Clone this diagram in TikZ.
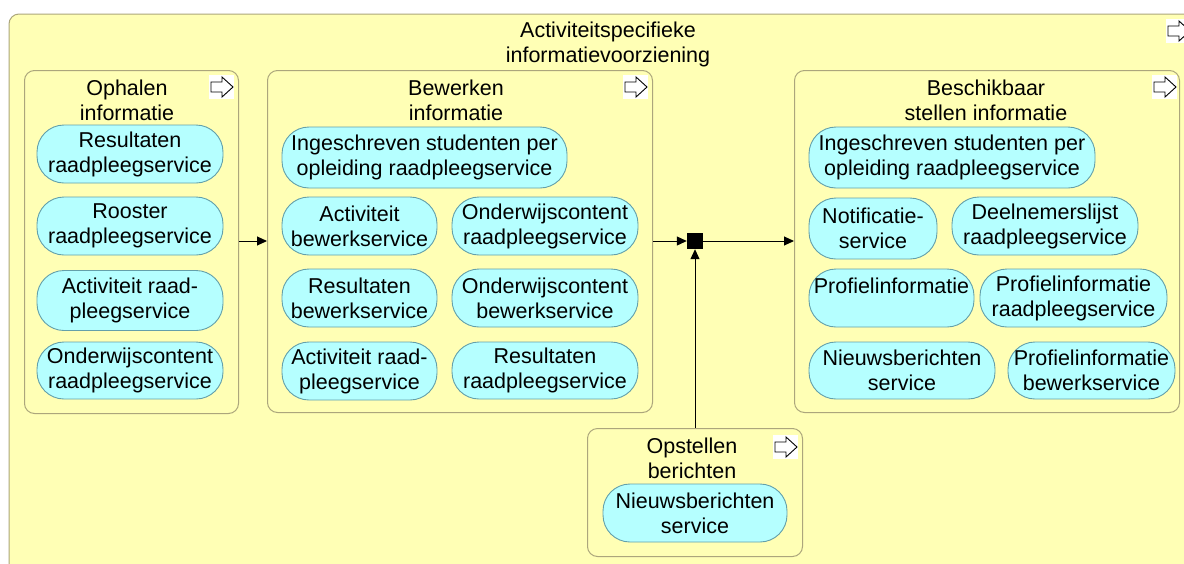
\documentclass[tikz,border=0pt]{standalone}
\usepackage{fontspec}
\setmainfont{Liberation Sans}
\usetikzlibrary{arrows.meta}
\definecolor{bizfill}{RGB}{255,255,181}
\definecolor{bizline}{RGB}{172,166,124}
\definecolor{appfill}{RGB}{181,255,255}
\definecolor{appline}{RGB}{100,160,170}
\begin{document}
\begin{tikzpicture}[x=1pt,y=-1pt,
  txt/.style={font=\fontsize{21.5}{25}\selectfont, align=center, inner sep=0pt},
  grp/.style={draw=bizline, fill=bizfill, line width=1pt, rounded corners=10pt},
  grpbox/.style 2 args={grp, anchor=north west, minimum width=#1pt, minimum height=#2pt, inner sep=0pt},
  svc/.style 2 args={txt, draw=appline, fill=appfill, line width=0.9pt, rounded corners=27pt, minimum width=#1pt, minimum height=#2pt},
  flow/.style={-{Triangle[length=10pt,width=9pt]}, line width=1pt, black},
  procicon/.pic={
    \fill[white] (0,0) rectangle (25,24);
    \draw[black, line width=0.9pt, line join=miter] (2,7) -- (13,7) -- (13,2) -- (24,12) -- (13,22) -- (13,17) -- (2,17) -- cycle;
  }
]
\useasboundingbox (0,0) rectangle (1184,563);
\clip (0,0) rectangle (1184,563);
\fill[white] (0,0) rectangle (1184,563);

% outer group
\draw[grp] (9,14) rectangle (1210,610);
\node[txt] (t0) at (608,44.5) {Activiteitspecifieke\\informatievoorziening};
\pic at (1166,19) {procicon};

% sub groups
\node[grpbox={214}{343}] (oph) at (24,70) {};
\node[grpbox={385}{342}] (bew) at (267,70) {};
\node[grpbox={385}{342}] (bes) at (794,70) {};
\node[grpbox={215}{128}] (ops) at (587,428) {};

\pic at (209,75) {procicon};
\pic at (623,75) {procicon};
\pic at (1152,75) {procicon};
\pic at (773,435) {procicon};

\node[txt] (t1) at (127,100.5) {Ophalen\\informatie};
\node[txt] (t2) at (456,100.5) {Bewerken\\informatie};
\node[txt] (t3) at (986,100.5) {Beschikbaar\\stellen informatie};
\node[txt] (t4) at (692,458) {Opstellen\\berichten};

% left services
\node[svc={186}{58}] (l1) at (130,154) {Resultaten\\raadpleegservice};
\node[svc={186}{58}] (l2) at (130,226) {Rooster\\raadpleegservice};
\node[svc={186}{60}] (l3) at (130,300.5) {Activiteit raad-\\pleegservice};
\node[svc={186}{57}] (l4) at (130,370.5) {Onderwijscontent\\raadpleegservice};

% middle services
\node[svc={285}{61}] (m0) at (424.5,157.5) {Ingeschreven studenten per\\opleiding raadpleegservice};
\node[svc={155}{58}] (m1) at (359.5,226) {Activiteit\\bewerkservice};
\node[svc={186}{58}] (m2) at (545,226) {Onderwijscontent\\raadpleegservice};
\node[svc={155}{58}] (m3) at (359.5,298) {Resultaten\\bewerkservice};
\node[svc={186}{58}] (m4) at (545,298) {Onderwijscontent\\bewerkservice};
\node[svc={155}{58}] (m5) at (359.5,371) {Activiteit raad-\\pleegservice};
\node[svc={186}{57}] (m6) at (545,370.5) {Resultaten\\raadpleegservice};

% right services
\node[svc={286}{61}] (r0) at (952,157.5) {Ingeschreven studenten per\\opleiding raadpleegservice};
\node[svc={128}{61}] (r1) at (873,228.5) {Notificatie-\\service};
\node[svc={186}{58}] (r2) at (1045,226) {Deelnemerslijst\\raadpleegservice};
\node[svc={165}{58}] (r3) at (891.5,298) {Profielinformatie\\\mbox{}};
\node[svc={187}{58}] (r4) at (1073.5,298) {Profielinformatie\\raadpleegservice};
\node[svc={186}{57}] (r5) at (902,370.5) {Nieuwsberichten\\service};
\node[svc={167}{57}] (r6) at (1091.5,370.5) {Profielinformatie\\bewerkservice};

% bottom service
\node[svc={184}{58}] (b1) at (695,513) {Nieuwsberichten\\service};

% junction and flows
\node[fill=black, minimum size=16pt, inner sep=0pt] (j) at (695,241) {};
\draw[flow] (oph.east |- j) -- (bew.west |- j);
\draw[flow] (bew.east |- j) -- (j.west);
\draw[flow] (j.east) -- (bes.west |- j);
\draw[flow] (ops.north -| j) -- (j.south);
\end{tikzpicture}
\end{document}
